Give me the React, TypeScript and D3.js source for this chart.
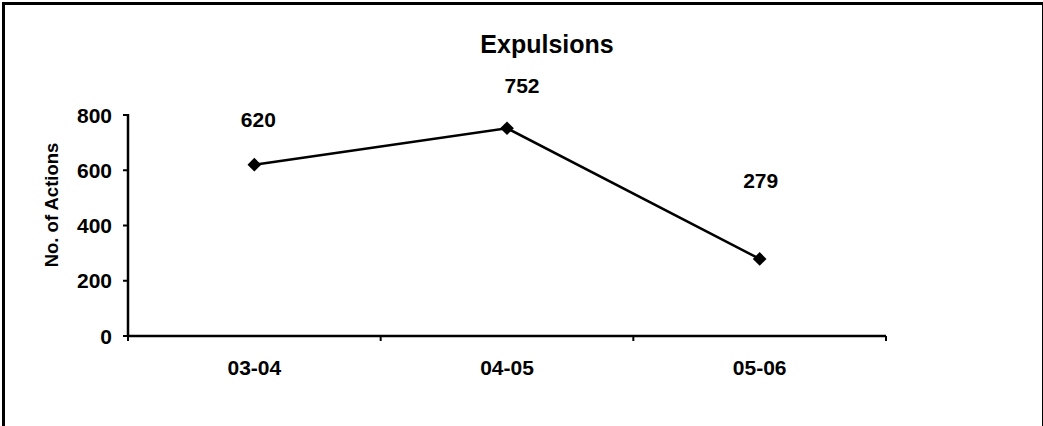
import React from "react";
import * as d3 from "d3";

const categories = ["03-04", "04-05", "05-06"];
const values = [620, 752, 279];
const yTicks = [0, 200, 400, 600, 800];
const title = "Expulsions";
const yTitle = "No. of Actions";

// label placement (pixels, relative to each point) – layout, not data
const labelDx = [4, 15, 1];
const labelDy = [-38, -35, -71];

const W = 1043;
const H = 426;
const FONT = "'Liberation Sans', Arial, sans-serif";

export default function App() {
  const x0 = 128;
  const x1 = 886;
  const yBase = 336;
  const yTop = 115;
  const x = d3.scalePoint<string>().domain(categories).range([x0, x1]).padding(0.5);
  const y = d3.scaleLinear().domain([0, 800]).range([yBase, yTop]);
  const step = x.step();
  const boundaries = d3.range(categories.length + 1).map((i) => x0 + i * step);
  const line = d3
    .line<number>()
    .x((_, i) => x(categories[i]) as number)
    .y((d) => y(d));
  const diamond = d3.symbol().type(d3.symbolDiamond2).size(120)() as string;

  return (
    <svg
      width={W}
      height={H}
      style={{ position: "absolute", left: 0, top: 0, background: "#fff" }}
      fontFamily={FONT}
    >
      <rect x={0} y={0} width={W} height={H} fill="#fff" />
      <rect x={3.5} y={3.5} width={W - 0.5 - 3.5 + 1} height={H + 50} fill="none" stroke="#000" strokeWidth={3} />
      <text x={547} y={53} textAnchor="middle" fontSize={25} fontWeight="bold" fill="#000">
        {title}
      </text>
      {/* y axis */}
      <line x1={x0} x2={x0} y1={yTop - 1} y2={yBase} stroke="#000" strokeWidth={2.5} />
      {yTicks.map((t) => (
        <g key={t}>
          <line x1={x0 - 5} x2={x0} y1={y(t)} y2={y(t)} stroke="#000" strokeWidth={2} />
          <text x={112} y={y(t)} dy="0.36em" textAnchor="end" fontSize={21} fontWeight="bold" fill="#000">
            {t}
          </text>
        </g>
      ))}
      {/* x axis */}
      <line x1={x0} x2={x1} y1={yBase} y2={yBase} stroke="#000" strokeWidth={2.5} />
      {boundaries.map((b, i) => (
        <line key={i} x1={b} x2={b} y1={yBase} y2={yBase + 5} stroke="#000" strokeWidth={2} />
      ))}
      {categories.map((c) => (
        <text key={c} x={x(c)} y={375} textAnchor="middle" fontSize={21} fontWeight="bold" fill="#000">
          {c}
        </text>
      ))}
      <text
        transform={`translate(58,205) rotate(-90)`}
        textAnchor="middle"
        fontSize={18.5}
        fontWeight="bold"
        fill="#000"
      >
        {yTitle}
      </text>
      <path d={line(values) as string} fill="none" stroke="#000" strokeWidth={2.5} />
      {values.map((v, i) => (
        <path key={i} d={diamond} transform={`translate(${x(categories[i])},${y(v)})`} fill="#000" />
      ))}
      {values.map((v, i) => (
        <text
          key={"l" + i}
          x={(x(categories[i]) as number) + labelDx[i]}
          y={y(v) + labelDy[i]}
          textAnchor="middle"
          fontSize={21}
          fontWeight="bold"
          fill="#000"
        >
          {v}
        </text>
      ))}
    </svg>
  );
}
